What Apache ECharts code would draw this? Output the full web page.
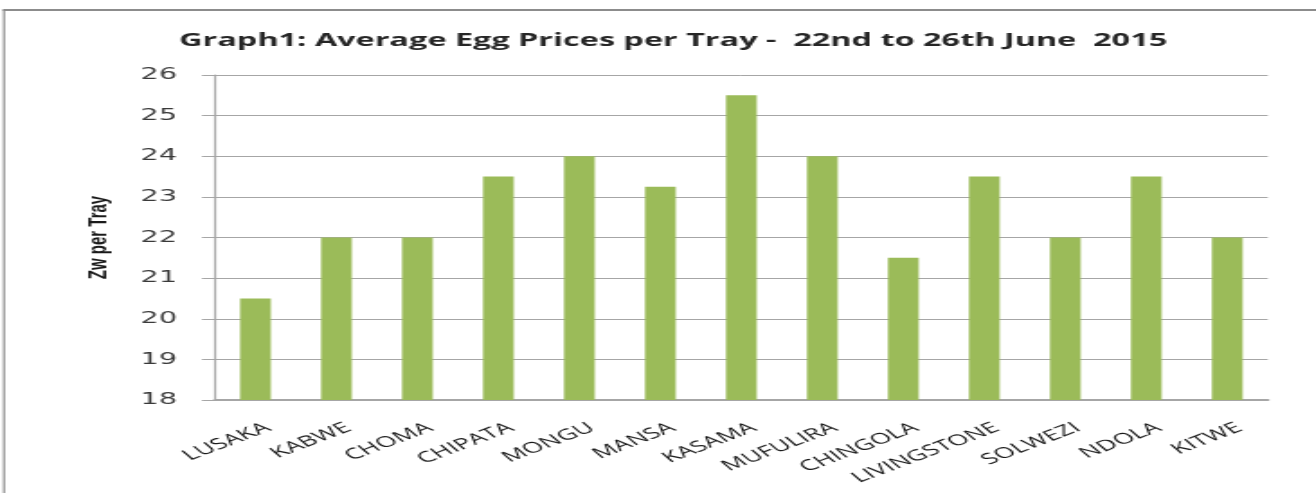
<!DOCTYPE html>
<html>
<head>
<meta charset="utf-8">
<script src="https://cdn.jsdelivr.net/npm/echarts@6/dist/echarts.min.js"></script>
<style>
  html, body { margin: 0; padding: 0; background: #fff; overflow: hidden; }
  /* the source picture is stretched sideways, so draw narrow and widen it */
  #chart { width: 731px; height: 493px; transform: scaleX(1.8); transform-origin: 0 0; }
</style>
</head>
<body>
<div id="chart"></div>
<script>
// towns along the x axis
const towns = ["LUSAKA", "KABWE", "CHOMA", "CHIPATA", "MONGU", "MANSA", "KASAMA",
  "MUFULIRA", "CHINGOLA", "LIVINGSTONE", "SOLWEZI", "NDOLA", "KITWE"];
// average price per tray
const prices = [20.5, 22, 22, 23.5, 24, 23.25, 25.5, 24, 21.5, 23.5, 22, 23.5, 22];
const yMin = 18;
const yMax = 26;
const yStep = 1;

const chart = echarts.init(document.getElementById("chart"));

const option = {
  animation: false,
  title: {
    text: "Graph1: Average Egg Prices per Tray -  22nd to 26th June  2015",
    left: 369,
    top: 27,
    textAlign: "center",
    textStyle: {
      fontFamily: "Open Sans",
      fontWeight: "bold",
      fontSize: 18,
      color: "#262626"
    }
  },
  graphic: [
    // frame lines round the chart (top and left edges)
    {
      type: "line",
      shape: { x1: 1.5, y1: 10, x2: 731, y2: 10 },
      style: { stroke: "#8c8c8c", lineWidth: 2 }
    },
    {
      type: "line",
      shape: { x1: 2.2, y1: 10, x2: 2.2, y2: 493 },
      style: { stroke: "#8c8c8c", lineWidth: 1.1 }
    }
  ],
  grid: {
    left: 119.4,
    right: 26.7,
    top: 75,
    bottom: 93
  },
  xAxis: {
    type: "category",
    data: towns,
    axisTick: { show: false },
    axisLine: {
      show: true,
      lineStyle: { color: "#a6a6a6", width: 2 }
    },
    axisLabel: {
      rotate: 34,
      interval: 0,
      margin: 16,
      verticalAlign: "top",
      padding: [5, 0, 0, 0],
      fontFamily: "Open Sans",
      fontSize: 15,
      color: "#1a1a1a"
    }
  },
  yAxis: {
    type: "value",
    min: yMin,
    max: yMax,
    interval: yStep,
    name: "Zw per Tray",
    nameLocation: "middle",
    nameGap: 57,
    nameTextStyle: {
      fontFamily: "Liberation Sans",
      fontWeight: "bold",
      fontSize: 15,
      color: "#1a1a1a"
    },
    axisLine: {
      show: true,
      lineStyle: { color: "#a6a6a6", width: 1.2 }
    },
    axisTick: {
      show: true,
      length: 7.2,
      lineStyle: { color: "#a6a6a6" }
    },
    axisLabel: {
      margin: 21,
      fontFamily: "DejaVu Sans",
      fontSize: 16,
      color: "#3a3a3a"
    },
    splitLine: {
      lineStyle: { color: "#a6a6a6", width: 1 }
    }
  },
  series: [
    {
      name: "Price",
      type: "bar",
      data: prices,
      barWidth: "38%",
      itemStyle: { color: "#9bbb59" }
    }
  ]
};

chart.setOption(option);
</script>
</body>
</html>
